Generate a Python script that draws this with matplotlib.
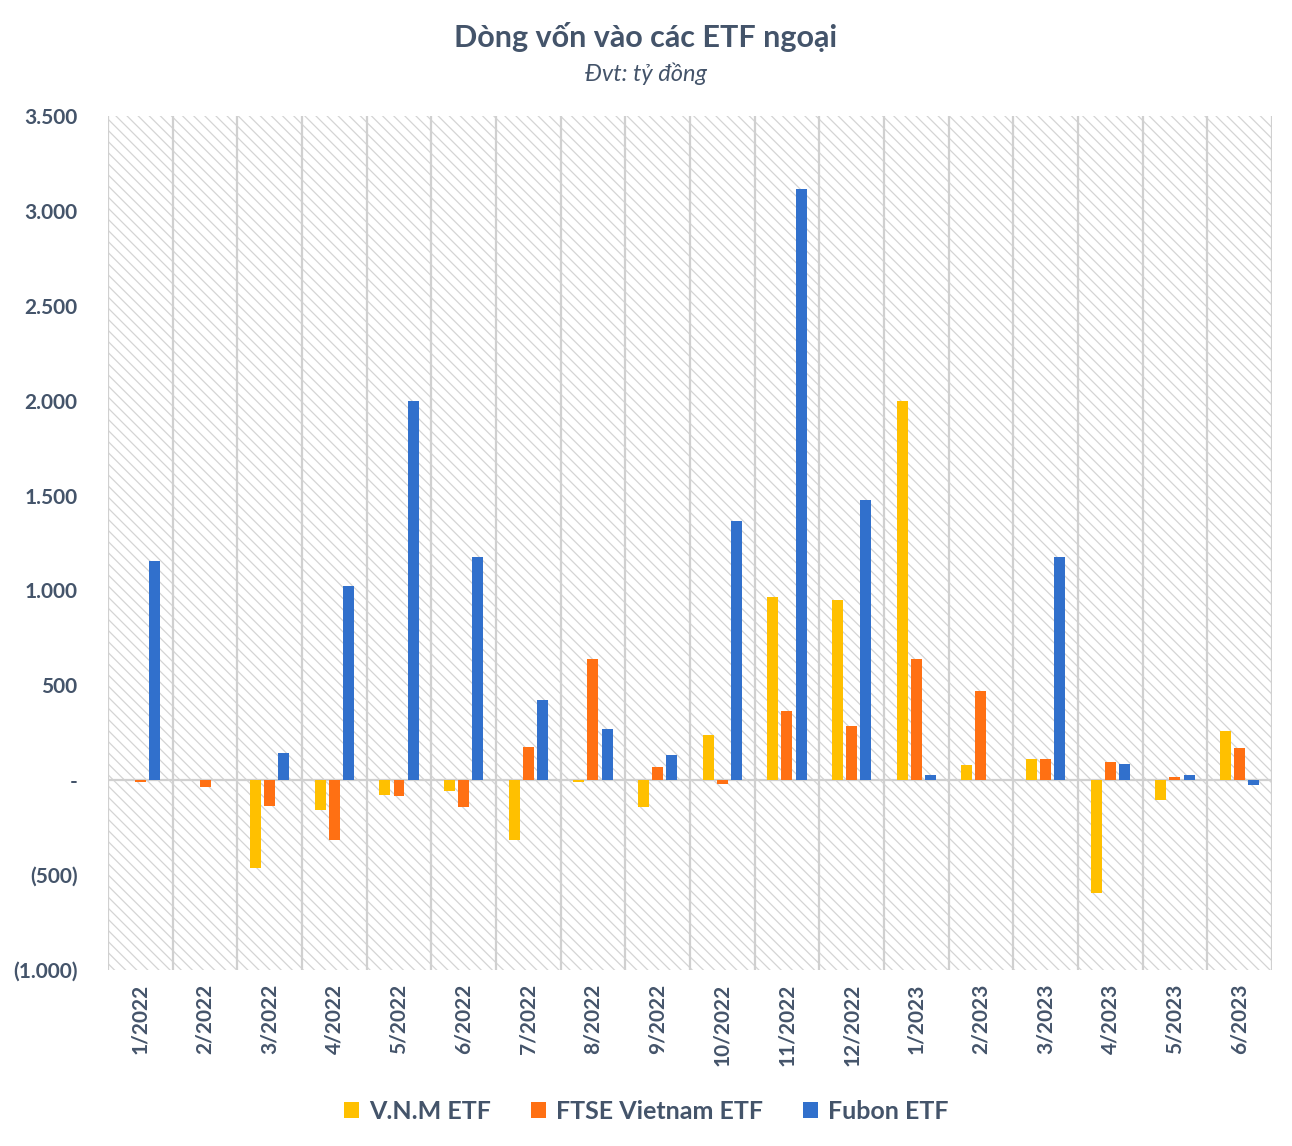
import numpy as np
import matplotlib.pyplot as plt
from matplotlib.patches import Rectangle
from matplotlib.ticker import FuncFormatter

plt.rcParams['font.family'] = ['Lato', 'DejaVu Sans']
plt.rcParams['font.weight'] = 'bold'
plt.rcParams['hatch.linewidth'] = 0.9
plt.rcParams['hatch.color'] = '#d4d4d4'

months = ['1/2022', '2/2022', '3/2022', '4/2022', '5/2022', '6/2022', '7/2022', '8/2022',
          '9/2022', '10/2022', '11/2022', '12/2022', '1/2023', '2/2023', '3/2023', '4/2023',
          '5/2023', '6/2023']
vnm = [0, 0, -464, -158, -79, -58, -316, -8, -142, 237, 964, 948, 1997, 79, 111, -595, -105, 258]
ftse = [-10, -35, -137, -316, -84, -142, 174, 638, 68, -20, 364, 285, 638, 469, 111, 95, 16, 169]
fubon = [1154, 0, 142, 1022, 1997, 1175, 421, 269, 132, 1365, 3114, 1475, 26, 0, 1175, 84, 26, -26]
series_names = ['V.N.M ETF', 'FTSE Vietnam ETF', 'Fubon ETF']
colors = ['#FFC000', '#FF7013', '#3170CC']
yticks = [-1000, -500, 0, 500, 1000, 1500, 2000, 2500, 3000, 3500]

txt = '#44546A'

fig = plt.figure(figsize=(12.92, 11.46), dpi=100)
ax = fig.add_axes([0.0836, 0.1536, 0.9009, 0.7452])

n = len(months)
x = np.arange(n)
ax.set_xlim(-0.5, n - 0.5)
ax.set_ylim(-1000, 3500)

# hatched background
ax.add_patch(Rectangle((-0.5, -1000), n, 4500, facecolor='white', edgecolor='#d4d4d4',
                       hatch='\\\\\\', linewidth=0, zorder=0))

for b in np.arange(-0.5, n, 1):
    ax.axvline(b, color='#d0d0d0', lw=1.6, zorder=1)
ax.axhline(0, color='#d0d0d0', lw=1.6, zorder=1)

w = 0.17
off = 0.22
for i, (vals, name, c) in enumerate(zip([vnm, ftse, fubon], series_names, colors)):
    ax.bar(x + (i - 1) * off, vals, width=w, color=c, label=name, zorder=3)

def fmt(v, pos):
    if v == 0:
        return '-'
    s = f'{abs(int(v)):,}'.replace(',', '.')
    return f'({s})' if v < 0 else s

ax.set_yticks(yticks)
ax.yaxis.set_major_formatter(FuncFormatter(fmt))
ax.set_xticks(x)
ax.set_xticklabels(months, rotation=90)
ax.tick_params(length=0, labelsize=15, labelcolor=txt)
ax.tick_params(axis='x', pad=10)
ax.tick_params(axis='y', pad=22)
for s in ax.spines.values():
    s.set_visible(False)

fig.text(0.5, 0.968, 'Dòng vốn vào các ETF ngoại', ha='center', va='center',
         fontsize=22, fontweight='bold', color=txt)
fig.text(0.5, 0.936, 'Đvt: tỷ đồng', ha='center', va='center',
         fontsize=17, style='italic', fontweight='normal', color=txt)

leg = fig.legend(loc='center', bbox_to_anchor=(0.5, 0.03), ncol=3, frameon=False,
                 fontsize=18, handlelength=0.6, handleheight=0.6, columnspacing=1.6,
                 handletextpad=0.4)
for t in leg.get_texts():
    t.set_color(txt)

fig.savefig('out.png', dpi=100)
